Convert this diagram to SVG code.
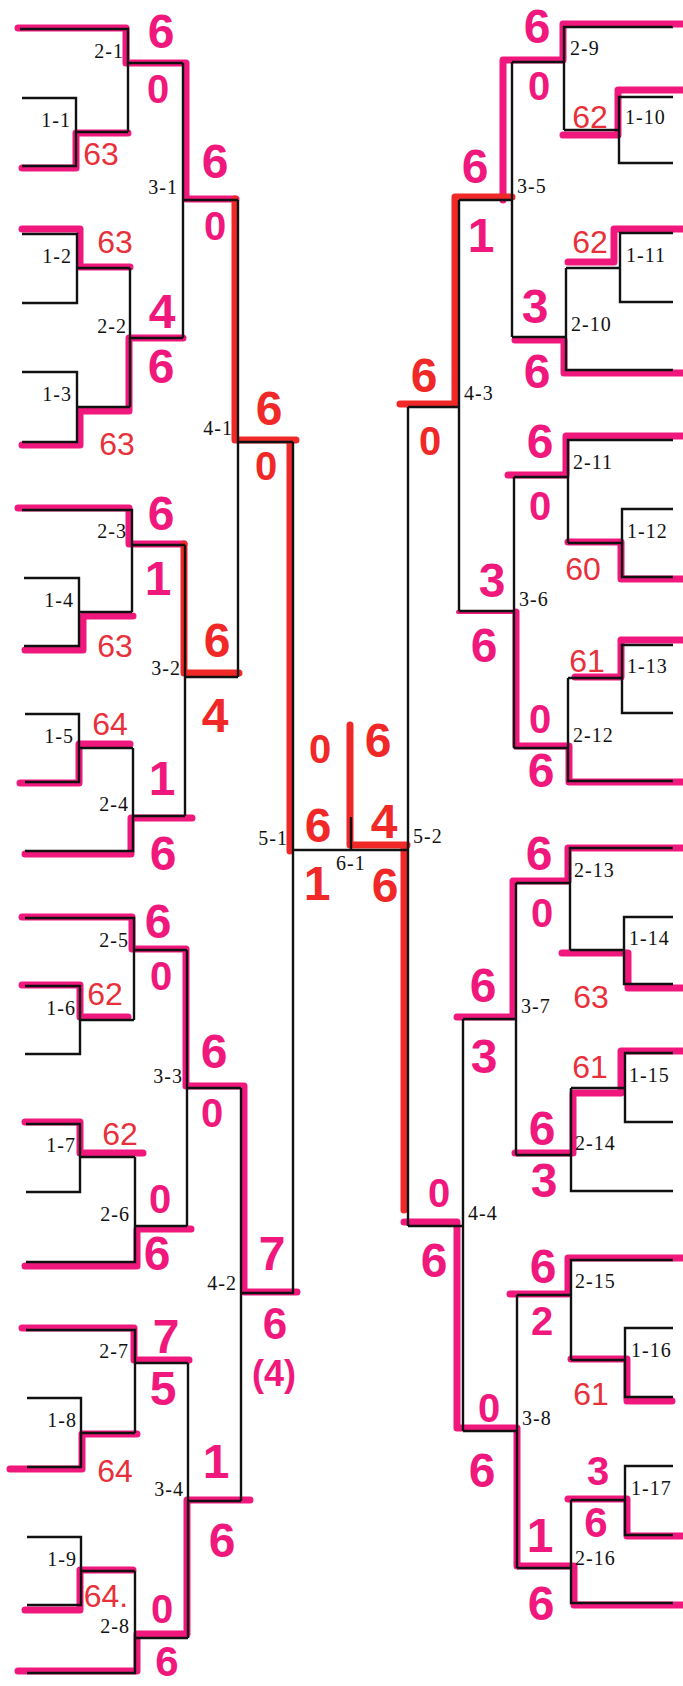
<svg xmlns="http://www.w3.org/2000/svg" width="683" height="1686" viewBox="0 0 683 1686">
<style>
.b{fill:none;stroke:#111;stroke-width:2.4}
.pk{fill:none;stroke:#f0187c;stroke-width:7;stroke-linejoin:round;stroke-linecap:round}
.rd{fill:none;stroke:#f02828;stroke-width:7;stroke-linejoin:round;stroke-linecap:round}
.lb{font-family:"Liberation Serif",serif;font-size:20px;fill:#111;letter-spacing:1px}
.l{text-anchor:end}
.sp{font-family:"Liberation Sans",sans-serif;font-weight:bold;font-size:48px;fill:#f0187c;text-anchor:middle}
.sr{font-family:"Liberation Sans",sans-serif;font-weight:bold;font-size:48px;fill:#f02828;text-anchor:middle}
.z{font-size:40px}
.tr{font-family:"Liberation Sans",sans-serif;font-size:32px;fill:#e8303a;text-anchor:middle}
</style>
<rect width="683" height="1686" fill="#fff"/>
<g id="highlights">
<path class="pk" d="M18,28 H126 V63 H186 V199 H236"/>
<path class="rd" d="M235,199 V440 H296 M290,440 V851"/>
<path class="pk" d="M22,168 H76 V133 H128"/>
<path class="pk" d="M22,229 H80 V267 H130"/>
<path class="pk" d="M22,445 H80 V411 H129 V338 H183"/>
<path class="pk" d="M18,508 H129 V544 H184"/>
<path class="rd" d="M184,544 V673 H239"/>
<path class="pk" d="M25,650 H83 V616 H133"/>
<path class="pk" d="M20,783 H79 V744 H130"/>
<path class="pk" d="M25,854 H131 V818 H192"/>
<path class="pk" d="M22,917 H132 V949 H186 V1086 H244 V1292 H297"/>
<path class="pk" d="M22,985 H80 V1017 H128"/>
<path class="pk" d="M25,1122 H80 V1153 H143"/>
<path class="pk" d="M25,1266 H137 V1229 H191"/>
<path class="pk" d="M22,1328 H134 V1360 H189"/>
<path class="pk" d="M10,1469 H82 V1434 H137"/>
<path class="pk" d="M18,1671 H137 V1634 H187 V1500 H250"/>
<path class="pk" d="M25,1610 H80 V1570 H133"/>
<path class="rd" d="M350,725 V845 H407 M404,848 V1210"/>
<path class="pk" d="M683,24 H563 V60 H503 V200"/>
<path class="rd" d="M512,197 H455 V404 H400"/>
<path class="pk" d="M683,90 H618 V135 H563"/>
<path class="pk" d="M683,229 H614 V262 H568"/>
<path class="pk" d="M683,373 H564 V340 H515"/>
<path class="pk" d="M683,436 H566 V475 H508"/>
<path class="pk" d="M683,579 H621 V542 H568"/>
<path class="pk" d="M683,782 H569 V746 H516 V612"/>
<path class="pk" style="stroke-width:4" d="M516,612 H458"/>
<path class="pk" d="M683,640 H621 V677 H575"/>
<path class="pk" d="M683,848 H568 V881 H513 V1017 H457"/>
<path class="pk" d="M683,988 H628 V953 H562"/>
<path class="pk" d="M683,1051 H621 V1093 H573 V1153 H515"/>
<path class="pk" d="M683,1605 H574 V1566 H517 V1428 H457 V1222 H404"/>
<path class="pk" d="M683,1258 H568 V1294 H510"/>
<path class="pk" d="M672,1401 H627 V1359 H571"/>
<path class="pk" d="M683,1536 H627 V1499 H568"/>
</g>
<g id="connectors">
<path class="b" d="M22,98 H76 V166 H22 M76,132 H128"/>
<path class="b" d="M20,29 H128 V132 M128,63 H183"/>
<path class="b" d="M22,234 H77 V303 H22 M77,268 H130"/>
<path class="b" d="M22,372 H77 V442 H22 M77,407 H130"/>
<path class="b" d="M130,268 V407 M130,338 H183"/>
<path class="b" d="M183,63 V338 M183,200 H238"/>
<path class="b" d="M22,510 H132 V612 M132,545 H185"/>
<path class="b" d="M24,578 H79 V646 H24 M79,612 H132"/>
<path class="b" d="M25,714 H79 V782 H25 M79,748 H133"/>
<path class="b" d="M25,851 H133 V748 M133,816 H185"/>
<path class="b" d="M185,545 V816 M185,677 H238"/>
<path class="b" d="M238,200 V677 M238,442 H293"/>
<path class="b" d="M25,918 H134 V1020 M134,950 H187"/>
<path class="b" d="M25,986 H80 V1054 H25 M80,1020 H134"/>
<path class="b" d="M26,1124 H80 V1192 H26 M80,1157 H135"/>
<path class="b" d="M26,1262 H135 V1157 M135,1226 H187"/>
<path class="b" d="M187,950 V1226 M187,1088 H241"/>
<path class="b" d="M26,1330 H135 V1433 M135,1363 H188"/>
<path class="b" d="M27,1398 H81 V1467 H27 M81,1433 H135"/>
<path class="b" d="M27,1537 H81 V1605 H27 M81,1571 H135"/>
<path class="b" d="M27,1673 H135 V1571 M135,1638 H188"/>
<path class="b" d="M188,1363 V1638 M188,1501 H241"/>
<path class="b" d="M241,1088 V1501 M241,1293 H294"/>
<path class="b" d="M293,442 V1293 M293,850 H408"/>
<path class="b" d="M351,817 V850"/>
<path class="b" d="M408,407 V1226"/>
<path class="b" d="M673,27 H564 V130 M564,62 H512"/>
<path class="b" d="M673,97 H619 V163 H673 M619,130 H564"/>
<path class="b" d="M673,233 H620 V302 H673 M620,268 H566"/>
<path class="b" d="M673,370 H566 V268 M566,337 H512"/>
<path class="b" d="M512,62 V337 M512,200 H459"/>
<path class="b" d="M459,200 V611 M459,407 H408"/>
<path class="b" d="M673,440 H568 V543 M568,477 H514"/>
<path class="b" d="M673,509 H622 V577 H673 M622,543 H568"/>
<path class="b" d="M673,645 H622 V713 H673 M622,678 H568"/>
<path class="b" d="M673,781 H568 V678 M568,748 H514"/>
<path class="b" d="M514,477 V748 M514,611 H459"/>
<path class="b" d="M673,848 H570 V950 M570,883 H516"/>
<path class="b" d="M673,917 H624 V984 H673 M624,950 H570"/>
<path class="b" d="M673,1053 H625 V1122 H673 M625,1088 H571"/>
<path class="b" d="M673,1191 H571 V1088 M571,1155 H516"/>
<path class="b" d="M516,883 V1155 M516,1019 H463"/>
<path class="b" d="M463,1019 V1431 M463,1226 H408"/>
<path class="b" d="M673,1260 H571 V1360 M571,1295 H517"/>
<path class="b" d="M673,1328 H625 V1397 H673 M625,1360 H571"/>
<path class="b" d="M673,1466 H625 V1535 H673 M625,1500 H571"/>
<path class="b" d="M673,1603 H571 V1500 M571,1568 H517"/>
<path class="b" d="M517,1295 V1568 M517,1431 H463"/>
</g>
<g id="n1-1"><text class="lb l" x="71" y="127">1-1</text></g>
<g id="n2-1"><text class="lb l" x="124" y="58">2-1</text></g>
<g id="n1-2"><text class="lb l" x="72" y="263">1-2</text></g>
<g id="n1-3"><text class="lb l" x="72" y="401">1-3</text></g>
<g id="n2-2"><text class="lb l" x="127" y="333">2-2</text></g>
<g id="n3-1"><text class="lb l" x="178" y="194">3-1</text></g>
<g id="n4-1"><text class="lb l" x="233" y="435">4-1</text></g>
<g id="n2-3"><text class="lb l" x="127" y="538">2-3</text></g>
<g id="n1-4"><text class="lb l" x="74" y="607">1-4</text></g>
<g id="n3-2"><text class="lb l" x="181" y="675">3-2</text></g>
<g id="n1-5"><text class="lb l" x="74" y="743">1-5</text></g>
<g id="n2-4"><text class="lb l" x="129" y="811">2-4</text></g>
<g id="n5-1"><text class="lb l" x="288" y="845">5-1</text></g>
<g id="n6-1"><text class="lb" x="336" y="870">6-1</text></g>
<g id="n5-2"><text class="lb" x="413" y="843">5-2</text></g>
<g id="n2-5"><text class="lb l" x="129" y="947">2-5</text></g>
<g id="n1-6"><text class="lb l" x="76" y="1015">1-6</text></g>
<g id="n3-3"><text class="lb l" x="183" y="1083">3-3</text></g>
<g id="n1-7"><text class="lb l" x="76" y="1152">1-7</text></g>
<g id="n2-6"><text class="lb l" x="130" y="1221">2-6</text></g>
<g id="n4-2"><text class="lb l" x="237" y="1290">4-2</text></g>
<g id="n2-7"><text class="lb l" x="129" y="1358">2-7</text></g>
<g id="n1-8"><text class="lb l" x="77" y="1427">1-8</text></g>
<g id="n3-4"><text class="lb l" x="184" y="1496">3-4</text></g>
<g id="n1-9"><text class="lb l" x="77" y="1566">1-9</text></g>
<g id="n2-8"><text class="lb l" x="130" y="1633">2-8</text></g>
<g id="n2-9"><text class="lb" x="570" y="55">2-9</text></g>
<g id="n1-10"><text class="lb" x="625" y="124">1-10</text></g>
<g id="n3-5"><text class="lb" x="517" y="193">3-5</text></g>
<g id="n1-11"><text class="lb" x="626" y="262">1-11</text></g>
<g id="n2-10"><text class="lb" x="571" y="331">2-10</text></g>
<g id="n4-3"><text class="lb" x="464" y="400">4-3</text></g>
<g id="n2-11"><text class="lb" x="573" y="469">2-11</text></g>
<g id="n1-12"><text class="lb" x="627" y="538">1-12</text></g>
<g id="n3-6"><text class="lb" x="519" y="606">3-6</text></g>
<g id="n1-13"><text class="lb" x="627" y="673">1-13</text></g>
<g id="n2-12"><text class="lb" x="573" y="742">2-12</text></g>
<g id="n2-13"><text class="lb" x="574" y="877">2-13</text></g>
<g id="n1-14"><text class="lb" x="629" y="945">1-14</text></g>
<g id="n3-7"><text class="lb" x="521" y="1013">3-7</text></g>
<g id="n1-15"><text class="lb" x="629" y="1082">1-15</text></g>
<g id="n2-14"><text class="lb" x="575" y="1150">2-14</text></g>
<g id="n4-4"><text class="lb" x="468" y="1220">4-4</text></g>
<g id="n2-15"><text class="lb" x="575" y="1288">2-15</text></g>
<g id="n1-16"><text class="lb" x="631" y="1357">1-16</text></g>
<g id="n3-8"><text class="lb" x="522" y="1425">3-8</text></g>
<g id="n1-17"><text class="lb" x="631" y="1495">1-17</text></g>
<g id="n2-16"><text class="lb" x="575" y="1565">2-16</text></g>
<g id="scores">
<text class="sp" x="161" y="48">6</text>
<text class="sp z" x="158" y="103">0</text>
<text class="tr" x="101" y="165">63</text>
<text class="sp" x="215" y="178">6</text>
<text class="sp z" x="215" y="240">0</text>
<text class="tr" x="115" y="253">63</text>
<text class="sp" x="162" y="328">4</text>
<text class="sp" x="161" y="383">6</text>
<text class="sr" x="269" y="425">6</text>
<text class="tr" x="117" y="455">63</text>
<text class="sr z" x="266" y="480">0</text>
<text class="sp" x="161" y="530">6</text>
<text class="sp" x="158" y="595">1</text>
<text class="tr" x="115" y="657">63</text>
<text class="sr" x="217" y="657">6</text>
<text class="sr" x="215" y="732">4</text>
<text class="tr" x="110" y="735">64</text>
<text class="sp" x="162" y="795">1</text>
<text class="sp" x="163" y="870">6</text>
<text class="sr z" x="320" y="763">0</text>
<text class="sr" x="318" y="842">6</text>
<text class="sr" x="317" y="900">1</text>
<text class="sr" x="378" y="757">6</text>
<text class="sr" x="384" y="838">4</text>
<text class="sr" x="385" y="902">6</text>
<text class="sp" x="158" y="938">6</text>
<text class="sp z" x="161" y="990">0</text>
<text class="tr" x="105" y="1005">62</text>
<text class="sp" x="214" y="1068">6</text>
<text class="sp z" x="212" y="1127">0</text>
<text class="tr" x="120" y="1145">62</text>
<text class="sp z" x="160" y="1213">0</text>
<text class="sp" x="157" y="1270">6</text>
<text class="sp" x="272" y="1270">7</text>
<text class="sp" style="font-size:44px" x="275" y="1339">6</text>
<text class="sp" style="font-size:36px" x="274" y="1386">(4)</text>
<text class="sp" x="166" y="1353">7</text>
<text class="sp" x="163" y="1405">5</text>
<text class="tr" x="115" y="1482">64</text>
<text class="sp" x="216" y="1478">1</text>
<text class="sp" x="222" y="1557">6</text>
<text class="tr" x="106" y="1607">64.</text>
<text class="sp z" x="162" y="1623">0</text>
<text class="sp" style="font-size:42px" x="167" y="1676">6</text>
<text class="sp" x="537" y="43">6</text>
<text class="sp z" x="539" y="100">0</text>
<text class="tr" x="590" y="128">62</text>
<text class="sp" x="475" y="183">6</text>
<text class="sp" x="481" y="252">1</text>
<text class="tr" x="590" y="253">62</text>
<text class="sp" x="535" y="323">3</text>
<text class="sp" x="537" y="388">6</text>
<text class="sr" x="424" y="392">6</text>
<text class="sr z" x="430" y="455">0</text>
<text class="sp" x="540" y="458">6</text>
<text class="sp z" x="540" y="520">0</text>
<text class="tr" x="583" y="580">60</text>
<text class="sp" x="492" y="597">3</text>
<text class="sp" x="484" y="662">6</text>
<text class="tr" x="587" y="672">61</text>
<text class="sp z" x="540" y="733">0</text>
<text class="sp" x="541" y="787">6</text>
<text class="sp" x="539" y="870">6</text>
<text class="sp z" x="542" y="927">0</text>
<text class="sp" x="483" y="1002">6</text>
<text class="tr" x="591" y="1008">63</text>
<text class="sp" x="484" y="1073">3</text>
<text class="tr" x="590" y="1078">61</text>
<text class="sp" x="542" y="1145">6</text>
<text class="sp" x="544" y="1197">3</text>
<text class="sp z" x="439" y="1207">0</text>
<text class="sp" x="434" y="1277">6</text>
<text class="sp" x="543" y="1283">6</text>
<text class="sp z" x="542" y="1335">2</text>
<text class="tr" x="591" y="1405">61</text>
<text class="sp z" x="489" y="1422">0</text>
<text class="sp" x="482" y="1487">6</text>
<text class="sp z" x="598" y="1485">3</text>
<text class="sp" style="font-size:42px" x="596" y="1537">6</text>
<text class="sp" x="540" y="1552">1</text>
<text class="sp" x="541" y="1620">6</text>
</g>
</svg>
